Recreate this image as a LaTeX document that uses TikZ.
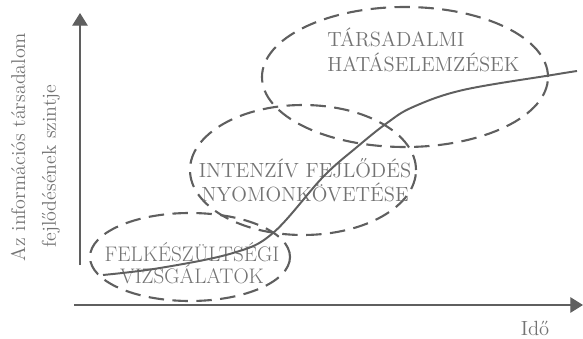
\documentclass[tikz,border=0pt]{standalone}
\definecolor{inkgray}{RGB}{95, 95, 95}
\definecolor{txtgray}{RGB}{115, 115, 115}
\usepackage{tikz}
\usetikzlibrary{shapes.geometric, arrows.meta, positioning, calc}

\begin{document}
\begin{tikzpicture}[
  zone/.style={ellipse, draw=inkgray, line width=1.5pt, dash pattern=on 11pt off 6pt, inner sep=0pt},
  lbl/.style={text=txtgray, align=center, font=\fontsize{14.6}{17.5}\selectfont, inner sep=0pt},
  axis/.style={draw=inkgray, line width=0.9pt, -{Triangle[length=9pt, width=11pt]}}
]
  \useasboundingbox (0, 0) rectangle (14.575, 8.45);

  % axes
  \coordinate (o) at (2.0, 1.825);
  \coordinate (ytop) at (2.0, 8.125);
  \coordinate (xstart) at (1.85, 0.825);
  \coordinate (xend) at (14.575, 0.825);
  \draw[axis] (o) -- (ytop);
  \draw[axis] (xstart) -- (xend);

  \node[lbl, rotate=90, font=\fontsize{14.2}{17}\selectfont] (ylab1) at (0.45, 4.775) {Az információs társadalom};
  \node[lbl, rotate=90, font=\fontsize{14.2}{17}\selectfont] (ylab2) at (1.275, 4.3) {fejlődésének szintje};
  \node[lbl] (xlab) at (13.375, 0.25) {Idő};

  % phases
  \node[zone, minimum width=5.0cm, minimum height=2.2cm] (felk) at (4.75, 2.025) {};
  \node[zone, minimum width=5.65cm, minimum height=3.25cm] (inten) at (7.575, 4.2) {};
  \node[zone, minimum width=7.15cm, minimum height=3.5cm] (tars) at (10.125, 6.525) {};

  \node[lbl, font=\fontsize{15}{15.8}\selectfont] (felkText) at (4.8, 1.875) {FELKÉSZÜLTSÉGI\\VIZSGÁLATOK};
  \node[lbl] (intenText) at (7.625, 3.95) {INTENZÍV FEJLŐDÉS\\NYOMONKÖVETÉSE};
  \node[lbl, align=left, anchor=west] (tarsText) at (8.175, 7.2) {TÁRSADALMI\\HATÁSELEMZÉSEK};

  % development curve
  \draw[inkgray, line width=1.4pt] plot[smooth, tension=0.6] coordinates {
    (2.575, 1.575) (4.0, 1.75) (5.825, 2.125) (6.825, 2.625) (8.075, 4.025)
    (8.925, 4.775) (9.675, 5.375) (10.325, 5.775) (11.575, 6.2) (13.8, 6.575) (14.425, 6.675)};
\end{tikzpicture}
\end{document}
